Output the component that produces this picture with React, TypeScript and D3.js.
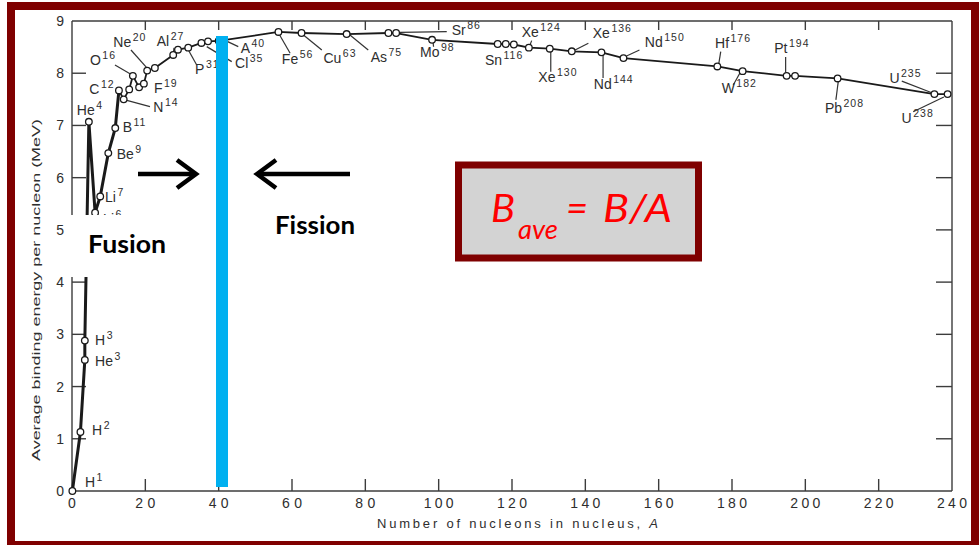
import React from 'react';
import * as d3 from 'd3';

// ---- data ----
const symbols = ['H','H','He','H','He','Li','Li','Be','B','C','N','','O','','F','Ne','','Al','','P','Cl','','A','Fe','Cu','As','Sr','','Mo','Sn','','','Xe','Xe','Xe','Nd','Nd','Hf','W','Pt','','Pb','U','U'];
const massNumbers = ['1','2','3','3','4','6','7','9','11','12','14','','16','','19','20','','27','','31','35','','40','56','63','75','86','','98','116','','','124','130','136','144','150','176','182','194','','208','235','238'];
const nucleons = [0.1,2.3,3.5,3.5,4.6,6.3,7.7,9.9,11.8,12.8,14.1,15.6,16.6,18.3,19.6,20.5,22.6,27.6,28.9,31.7,35.3,37.1,40.0,56.3,62.6,74.9,86.3,88.4,98.2,116.1,118.3,120.5,124.6,130.3,136.3,144.4,150.4,176.0,182.9,194.9,197.2,208.8,235.2,238.8];
const bindingPerNucleon = [0,1.13,2.51,2.88,7.07,5.33,5.64,6.47,6.95,7.67,7.50,7.69,7.95,7.73,7.80,8.05,8.10,8.35,8.45,8.49,8.58,8.61,8.62,8.79,8.77,8.75,8.77,8.77,8.64,8.56,8.56,8.55,8.49,8.47,8.42,8.40,8.29,8.13,8.04,7.95,7.95,7.90,7.60,7.60];

const xTicks = [0,20,40,60,80,100,120,140,160,180,200,220,240];
const yTicks = [0,1,2,3,4,5,6,7,8,9];

const xTitle = 'Number of nucleons in nucleus, ';
const yTitle = 'Average binding energy per nucleon (MeV)';

// label placement (pixel offsets from the point): text start, baseline, optional leader line
const labelLayout: Record<string, [number, number, number[] | null]> = {
  H1: [12.6, -4, null],
  H2: [11.6, 3, null],
  He3: [10.2, 6, null],
  H3: [10.2, 4.4, null],
  He4: [-12, -6.8, null],
  Li6: [8, 11.3, null],
  Li7: [4.8, 5.5, null],
  Be9: [8.4, 5.9, null],
  B11: [7.4, 4.2, null],
  C12: [-29.6, 3.5, null],
  N14: [29.6, 12.3, [1.3, 0.6, 26.3, 7.3]],
  O16: [-42.9, -10.9, [-17.9, -10.9, -2, -1.5]],
  F19: [10.1, 9.3, null],
  Ne20: [-33.9, -23.9, [-16.2, -20.6, -0.5, -3]],
  Al27: [-16.5, -9.3, [0.8, -7, 0.3, -3]],
  P31: [6.8, 26.3, [0.1, 2.3, 8.5, 17.3]],
  Cl35: [33.6, 25.3, [5.3, 3.7, 30.3, 18.7]],
  A40: [22, 11.8, [9, 0.8, 19.6, 5.8]],
  Fe56: [3.4, 32, [1.2, 3, 11.7, 21.3]],
  Cu63: [21.9, 30.3, [1.9, 2, 20.3, 17]],
  As75: [24, 28.2, [3.3, 0.9, 21.6, 15.9]],
  Sr86: [63.3, 2, [11.6, -0.7, 58.3, -1.3]],
  Mo98: [-12, 17.5, [1, 2.5, 1.5, 7]],
  Sn116: [-12.8, 21, null],
  Xe124: [-7.2, -10.4, [1.1, -2.5, 2.8, -7]],
  Xe130: [-11.4, 33, [1, 3, 1, 23]],
  Xe136: [21, -13, [3.3, -1.3, 16.6, -8]],
  Nd144: [-7.7, 36.9, [1.6, 2.6, 1.6, 25.6]],
  Nd150: [21.4, -11.4, [3.1, -2.1, 16, -8]],
  Hf176: [-2.3, -18.2, [3.4, -14.8, 1.5, -3]],
  W182: [-21, 22.1, [-2.7, 1.8, -9.4, 13.8]],
  Pt194: [-12.4, -22.6, [-1, -18.9, -1, -3]],
  Pb208: [-12.7, 34.8, [0.6, 3.5, -1.7, 21.5]],
  U235: [-45, -11, [-32.6, -13, -2.6, -1.4]],
  U238: [-46, 28.6, [-34.4, 17.6, -3.7, 2.9]],
};

const W = 979, H = 545;

export default function App() {
  const x = d3.scaleLinear().domain([0, 240]).range([72, 952]);
  const y = d3.scaleLinear().domain([0, 9]).range([491, 21]);
  const pts = nucleons.map((a, i) => ({ a, b: bindingPerNucleon[i], s: symbols[i], m: massNumbers[i] }));
  const line = d3.line<any>().x(d => x(d.a)).y(d => y(d.b));
  const thick = pts.slice(0, 10);
  const thin = pts.slice(9);
  const axisCol = '#3c3c3c';
  const txtCol = '#2e2e2e';
  const sans = '"Liberation Sans", Arial, sans-serif';

  return (
    <svg width={W} height={H} style={{ position: 'fixed', left: 0, top: 0, background: '#fff' }}>
      <rect x={0} y={0} width={W} height={H} fill="#fff" />
      {/* frame of plot */}
      <g stroke={axisCol} strokeWidth={1.4} fill="none">
        <line x1={x(0)} x2={x(240)} y1={y(0)} y2={y(0)} />
        <line x1={x(0)} x2={x(240)} y1={y(9)} y2={y(9)} />
        <line x1={x(0)} x2={x(0)} y1={y(0)} y2={y(9)} />
        <line x1={x(240)} x2={x(240)} y1={y(0)} y2={y(9)} />
        {xTicks.filter(t => t > 0 && t < 240).map(t => (
          <g key={'xt' + t}>
            <line x1={x(t)} x2={x(t)} y1={y(0)} y2={y(0) - 12} />
            <line x1={x(t)} x2={x(t)} y1={y(9)} y2={y(9) + 9} />
          </g>
        ))}
        {yTicks.filter(t => t > 0 && t < 9).map(t => (
          <g key={'yt' + t}>
            <line x1={x(0)} x2={x(0) + 14} y1={y(t)} y2={y(t)} />
            <line x1={x(240)} x2={x(240) - 16} y1={y(t)} y2={y(t)} />
          </g>
        ))}
      </g>
      {/* tick labels */}
      <g fill={txtCol} fontFamily={sans} fontSize={14}>
        {xTicks.map(t => {
          const s = String(t);
          return (
            <text key={'xl' + t} x={x(t)} y={508} textAnchor="middle" textLength={s.length * 10} lengthAdjust="spacing">{s}</text>
          );
        })}
        {yTicks.map(t => (
          <text key={'yl' + t} x={64} y={y(t)} dy="0.36em" textAnchor="end">{t}</text>
        ))}
      </g>
      <text x={377} y={528} fontFamily={sans} fontSize={13} fill={txtCol} textLength={281} lengthAdjust="spacing">
        {xTitle}<tspan fontStyle="italic">A</tspan>
      </text>
      <text transform="translate(40,290) rotate(-90)" textAnchor="middle" fontFamily={sans} fontSize={11.5} fill={txtCol} textLength={342} lengthAdjust="spacingAndGlyphs">{yTitle}</text>

      {/* curve */}
      <path d={line(thick) || ''} fill="none" stroke="#1a1a1a" strokeWidth={3} strokeLinejoin="round" />
      <path d={line(thin) || ''} fill="none" stroke="#1a1a1a" strokeWidth={1.8} strokeLinejoin="round" />

      {/* leaders */}
      <g stroke="#333" strokeWidth={1.2}>
        {pts.map((p, i) => {
          const l = labelLayout[p.s + p.m];
          if (!p.s || !l || !l[2]) return null;
          const px = x(p.a), py = y(p.b), L = l[2];
          return <line key={'ld' + i} x1={px + L[0]} y1={py + L[1]} x2={px + L[2]} y2={py + L[3]} />;
        })}
      </g>
      {/* points */}
      <g fill="#fff" stroke="#1a1a1a" strokeWidth={1.3}>
        {pts.map((p, i) => <circle key={'c' + i} cx={x(p.a)} cy={y(p.b)} r={3.3} />)}
      </g>
      {/* labels */}
      <g fill={txtCol} fontFamily={sans} fontSize={14}>
        {pts.map((p, i) => {
          const l = labelLayout[p.s + p.m];
          if (!p.s || !l) return null;
          return (
            <text key={'lb' + i} x={x(p.a) + l[0]} y={y(p.b) + l[1]}>
              {p.s}<tspan dx={1.5} dy={-6} fontSize={10.5} letterSpacing={1}>{p.m}</tspan>
            </text>
          );
        })}
      </g>

      {/* overlay: Fusion / Fission */}
      <rect x={67} y={215} width={140} height={62} fill="#fff" />
      <text x={88} y={253} fontFamily="Lato, sans-serif" fontWeight={700} fontSize={24} fill="#000" textLength={78} lengthAdjust="spacingAndGlyphs">Fusion</text>
      <text x={275} y={234} fontFamily="Lato, sans-serif" fontWeight={700} fontSize={24} fill="#000" textLength={80} lengthAdjust="spacingAndGlyphs">Fission</text>
      <g stroke="#000" strokeWidth={4.5} fill="none" strokeLinejoin="miter">
        <path d="M138,174 H194" />
        <path d="M177,160 L196,174 L177,188" />
        <path d="M350,174 H258" />
        <path d="M276,160 L257,174 L276,188" />
      </g>
      <rect x={216} y={36} width={12} height={451} fill="#00B0F0" />

      {/* formula box */}
      <rect x={458.5} y={165} width={240} height={93} fill="#D3D3D3" stroke="#7F0000" strokeWidth={7} />
      <g fill="#FF0000" fontFamily="Lato, sans-serif" fontStyle="italic">
        <text x={491} y={222} fontSize={38} textLength={24} lengthAdjust="spacingAndGlyphs">B</text>
        <text x={518} y={239} fontSize={27} textLength={40} lengthAdjust="spacingAndGlyphs">ave</text>
        <text x={566} y={222} fontSize={38} textLength={22} lengthAdjust="spacingAndGlyphs">=</text>
        <text x={603} y={222} fontSize={38} textLength={69} lengthAdjust="spacingAndGlyphs">B/A</text>
      </g>

      {/* outer dark red frame */}
      <rect x={11} y={6} width={964} height={539} fill="none" stroke="#7F0000" strokeWidth={8} />
    </svg>
  );
}
